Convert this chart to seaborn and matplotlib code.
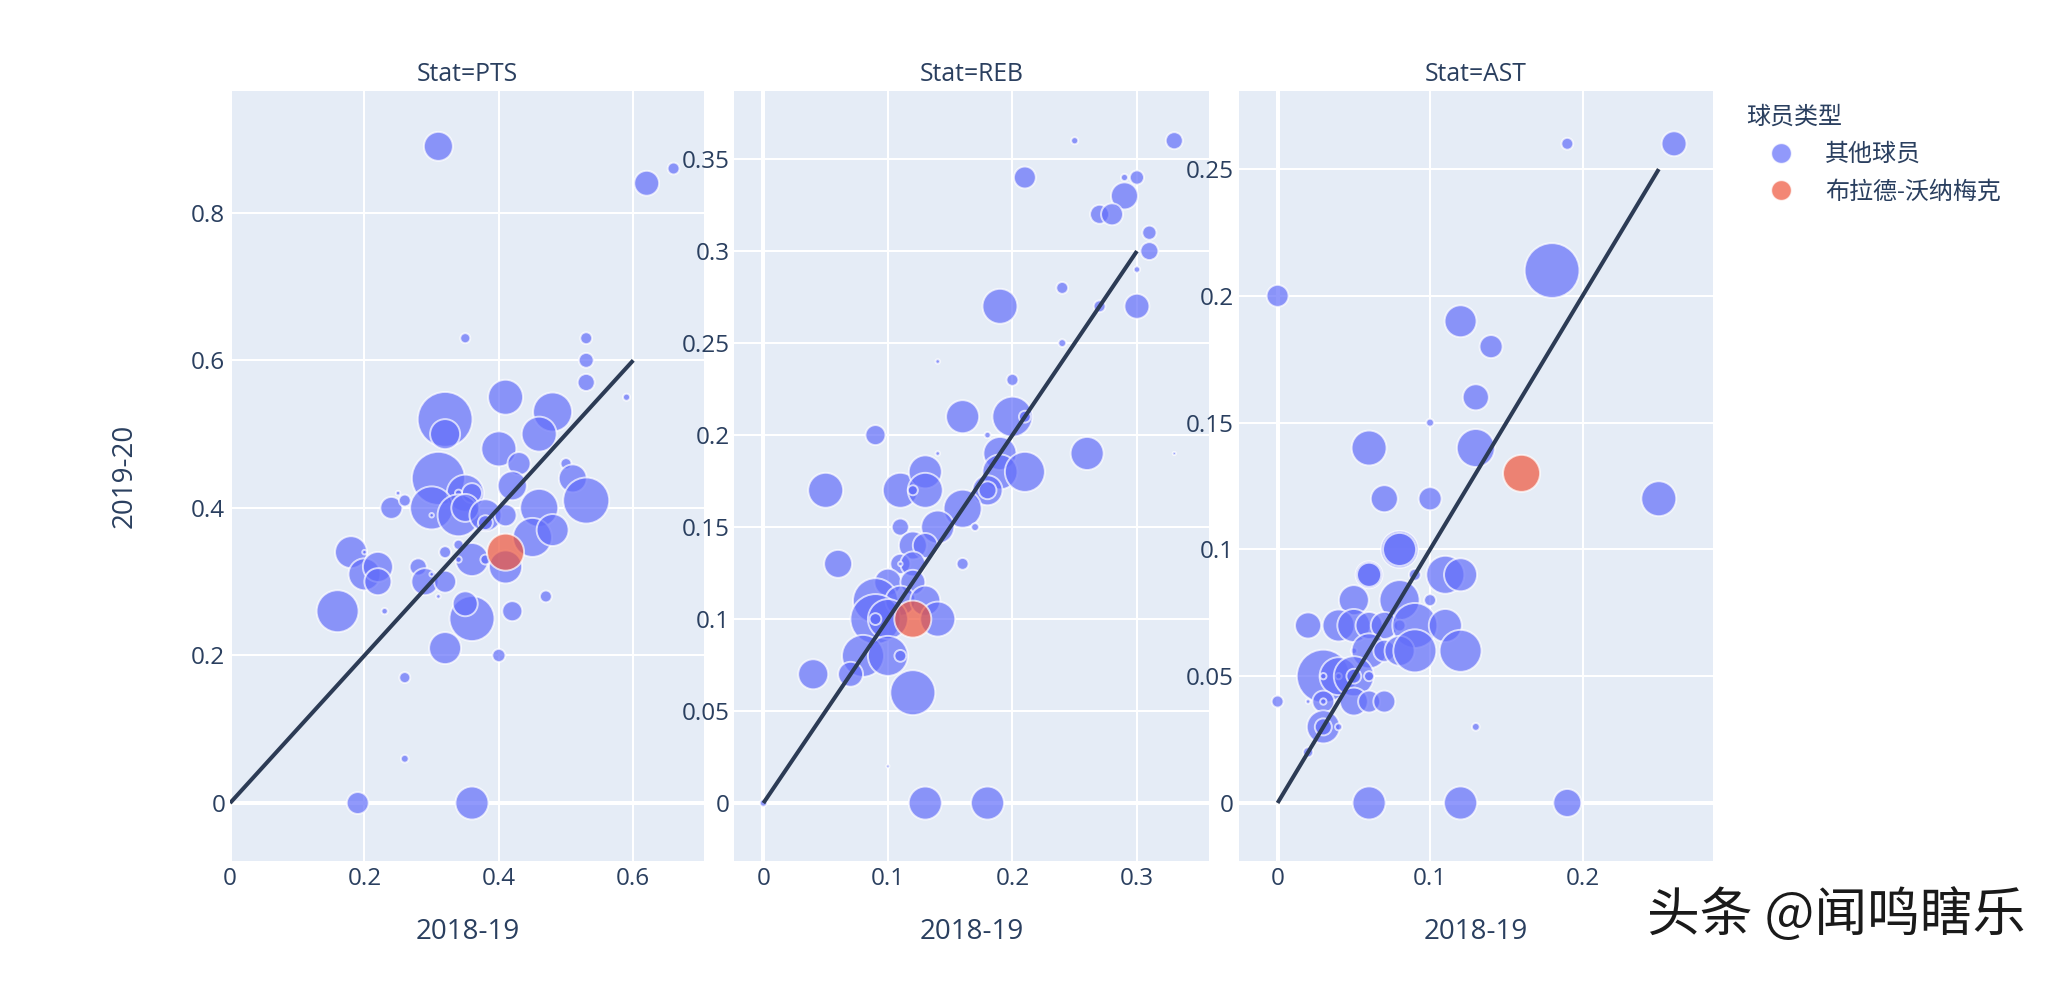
import matplotlib
matplotlib.use("Agg")
import matplotlib.pyplot as plt
import numpy as np
import pandas as pd
import seaborn as sns
from matplotlib.lines import Line2D
from matplotlib.ticker import FuncFormatter

# ---------------- data ----------------
stats = ["PTS", "REB", "AST"]
other_label = "其他球员"
focus_label = "布拉德-沃纳梅克"
legend_title = "球员类型"
x_title = "2018-19"
y_title = "2019-20"

# share of team stat per player, 2018-19 vs 2019-20; MIN drives bubble area
pts_prev = [0.31, 0.62, 0.66, 0.35, 0.53, 0.53, 0.53, 0.59, 0.32, 0.32,
            0.41, 0.48, 0.46, 0.40, 0.43, 0.50, 0.51, 0.53, 0.42, 0.31,
            0.35, 0.36, 0.34, 0.30, 0.34, 0.35, 0.38, 0.38, 0.41, 0.24,
            0.25, 0.26, 0.30, 0.46, 0.45, 0.48, 0.41, 0.36, 0.38, 0.32,
            0.34, 0.34, 0.18, 0.20, 0.20, 0.22, 0.22, 0.28, 0.29, 0.30,
            0.32, 0.31, 0.36, 0.35, 0.32, 0.40, 0.42, 0.47, 0.16, 0.23,
            0.26, 0.26, 0.19, 0.36]
pts_curr = [0.89, 0.84, 0.86, 0.63, 0.63, 0.60, 0.57, 0.55, 0.52, 0.50,
            0.55, 0.53, 0.50, 0.48, 0.46, 0.46, 0.44, 0.41, 0.43, 0.44,
            0.42, 0.42, 0.42, 0.40, 0.39, 0.40, 0.39, 0.38, 0.39, 0.40,
            0.42, 0.41, 0.39, 0.40, 0.36, 0.37, 0.32, 0.33, 0.33, 0.34,
            0.35, 0.33, 0.34, 0.34, 0.31, 0.32, 0.30, 0.32, 0.30, 0.31,
            0.30, 0.28, 0.25, 0.27, 0.21, 0.20, 0.26, 0.28, 0.26, 0.26,
            0.17, 0.06, 0.00, 0.00]
pts_min = [8.4, 6.2, 1.4, 1.0, 1.4, 2.2, 2.9, 0.5, 30.2, 9.0,
           12.2, 15.2, 12.2, 12.2, 5.3, 1.2, 7.8, 21.2, 8.4, 28.1,
           13.7, 4.0, 0.5, 18.5, 17.6, 7.8, 10.2, 2.2, 4.8, 4.8,
           0.2, 1.4, 0.2, 14.4, 15.2, 10.2, 10.9, 10.9, 1.0, 1.4,
           1.0, 0.4, 10.2, 0.2, 10.2, 9.0, 7.3, 2.9, 7.3, 0.2,
           4.8, 0.2, 20.2, 6.2, 10.2, 1.7, 4.0, 1.4, 17.6, 0.4,
           1.2, 0.6, 4.8, 10.9]

reb_prev = [0.25, 0.33, 0.21, 0.29, 0.30, 0.29, 0.27, 0.28, 0.31, 0.31,
            0.30, 0.24, 0.27, 0.30, 0.19, 0.24, 0.14, 0.20, 0.16, 0.20,
            0.21, 0.18, 0.09, 0.14, 0.19, 0.26, 0.33, 0.19, 0.21, 0.18,
            0.18, 0.16, 0.14, 0.17, 0.16, 0.11, 0.13, 0.13, 0.12, 0.05,
            0.06, 0.11, 0.12, 0.13, 0.11, 0.12, 0.11, 0.10, 0.12, 0.09,
            0.11, 0.13, 0.09, 0.10, 0.09, 0.14, 0.08, 0.10, 0.11, 0.07,
            0.04, 0.12, 0.10, 0.00, 0.13, 0.18]
reb_curr = [0.36, 0.36, 0.34, 0.34, 0.34, 0.33, 0.32, 0.32, 0.31, 0.30,
            0.29, 0.28, 0.27, 0.27, 0.27, 0.25, 0.24, 0.23, 0.21, 0.21,
            0.21, 0.20, 0.20, 0.19, 0.19, 0.19, 0.19, 0.18, 0.18, 0.17,
            0.17, 0.16, 0.15, 0.15, 0.13, 0.17, 0.18, 0.17, 0.17, 0.17,
            0.13, 0.15, 0.14, 0.14, 0.13, 0.13, 0.13, 0.12, 0.12, 0.11,
            0.11, 0.11, 0.10, 0.10, 0.10, 0.10, 0.08, 0.08, 0.08, 0.07,
            0.07, 0.06, 0.02, 0.00, 0.00, 0.00]
reb_min = [0.5, 2.9, 4.8, 0.5, 2.0, 7.3, 3.6, 4.8, 2.0, 3.2,
           0.4, 1.4, 1.4, 6.2, 12.2, 0.6, 0.2, 1.4, 10.9, 16.0,
           1.4, 0.4, 4.0, 0.2, 10.9, 10.9, 0.1, 12.2, 16.0, 9.0,
           3.2, 14.4, 10.9, 0.6, 1.4, 12.2, 10.9, 12.2, 1.0, 12.2,
           7.8, 2.9, 7.8, 6.2, 4.0, 6.2, 0.2, 7.3, 6.2, 20.2,
           9.0, 9.0, 25.0, 16.0, 1.4, 12.2, 17.6, 16.0, 1.4, 6.2,
           9.0, 20.2, 0.1, 0.5, 10.9, 10.9]

ast_prev = [0.19, 0.26, 0.18, 0.00, 0.12, 0.14, 0.13, 0.10, 0.06, 0.13,
            0.07, 0.10, 0.25, 0.08, 0.08, 0.06, 0.06, 0.11, 0.12, 0.09,
            0.05, 0.08, 0.10, 0.02, 0.04, 0.05, 0.06, 0.07, 0.08, 0.09,
            0.11, 0.05, 0.06, 0.07, 0.08, 0.09, 0.12, 0.03, 0.04, 0.04,
            0.05, 0.05, 0.06, 0.03, 0.00, 0.02, 0.03, 0.03, 0.05, 0.06,
            0.07, 0.03, 0.03, 0.04, 0.13, 0.02, 0.06, 0.12, 0.19]
ast_curr = [0.26, 0.26, 0.21, 0.20, 0.19, 0.18, 0.16, 0.15, 0.14, 0.14,
            0.12, 0.12, 0.12, 0.10, 0.10, 0.09, 0.09, 0.09, 0.09, 0.09,
            0.08, 0.08, 0.08, 0.07, 0.07, 0.07, 0.07, 0.07, 0.07, 0.07,
            0.07, 0.06, 0.06, 0.06, 0.06, 0.06, 0.06, 0.05, 0.05, 0.05,
            0.05, 0.05, 0.05, 0.05, 0.04, 0.04, 0.04, 0.04, 0.04, 0.04,
            0.04, 0.03, 0.03, 0.03, 0.03, 0.02, 0.00, 0.00, 0.00]
ast_min = [1.4, 6.2, 30.2, 4.8, 10.2, 5.3, 6.8, 0.6, 12.2, 14.4,
           7.3, 5.3, 12.2, 13.7, 10.9, 7.3, 5.8, 14.4, 10.9, 1.4,
           9.0, 16.0, 1.4, 6.8, 10.2, 10.9, 7.3, 7.3, 1.4, 20.2,
           10.9, 0.4, 12.2, 4.8, 9.0, 18.5, 17.6, 28.1, 14.4, 0.4,
           16.0, 2.2, 1.0, 0.4, 1.4, 0.2, 4.8, 0.4, 7.8, 4.8,
           4.8, 10.9, 2.9, 0.5, 0.6, 1.0, 10.9, 10.9, 7.8]

# Brad Wanamaker (PTS, REB, AST)
bw_prev = [0.41, 0.12, 0.16]
bw_curr = [0.34, 0.10, 0.13]
bw_min = [13.7, 13.7, 13.7]

# y = x reference line end per stat
diag_max = [0.6, 0.3, 0.25]

x_ticks = [[0, 0.2, 0.4, 0.6], [0, 0.1, 0.2, 0.3], [0, 0.1, 0.2]]
y_ticks = [[0, 0.2, 0.4, 0.6, 0.8],
           [0, 0.05, 0.1, 0.15, 0.2, 0.25, 0.3, 0.35],
           [0, 0.05, 0.1, 0.15, 0.2, 0.25]]
x_lims = [(0.0, 0.706), (-0.0233, 0.3577), (-0.0255, 0.2856)]
y_lims = [(-0.0786, 0.965), (-0.0315, 0.387), (-0.0229, 0.2808)]

# ---------------- style ----------------
sns.set_theme(style="darkgrid", rc={
    "axes.facecolor": "#E5ECF6",
    "grid.color": "white",
    "figure.facecolor": "white",
})
plt.rcParams["font.family"] = ["Open Sans", "Noto Sans CJK SC", "DejaVu Sans"]

TXT = "#2a3f5f"
palette = {other_label: "#636efa", focus_label: "#ef553b"}
VMAX = 30.0

prev_sets = [pts_prev, reb_prev, ast_prev]
curr_sets = [pts_curr, reb_curr, ast_curr]
min_sets = [pts_min, reb_min, ast_min]

fig, axes = plt.subplots(1, 3, figsize=(20.58, 9.82), dpi=100)
fig.subplots_adjust(left=0.1118, right=0.8324, bottom=0.1232, top=0.9073, wspace=0.0631)

fmt = FuncFormatter(lambda v, p: f"{v:g}")

for k, ax in enumerate(axes):
    df = pd.DataFrame({x_title: prev_sets[k], y_title: curr_sets[k],
                       "MIN": min_sets[k], legend_title: other_label})
    red = pd.DataFrame({x_title: [bw_prev[k]], y_title: [bw_curr[k]],
                        "MIN": [bw_min[k]], legend_title: [focus_label]})
    df = pd.concat([df, red], ignore_index=True)

    ax.set_facecolor("#E5ECF6")
    ax.set_axisbelow(True)
    ax.grid(True, color="white", lw=1.45)
    ax.axhline(0, color="white", lw=2.9, zorder=0.8)
    ax.axvline(0, color="white", lw=2.9, zorder=0.8)

    sns.scatterplot(data=df, x=x_title, y=y_title, hue=legend_title,
                    palette=palette, size="MIN", sizes=(0, 51.84 * VMAX),
                    size_norm=(0, VMAX), alpha=0.7, edgecolor="white",
                    linewidth=1.4, legend=False, ax=ax, zorder=2)

    ax.plot([0, diag_max[k]], [0, diag_max[k]], color="#2c3b55", lw=2.9,
            solid_capstyle="butt", zorder=3)

    ax.set_xlim(*x_lims[k])
    ax.set_ylim(*y_lims[k])
    ax.set_xticks(x_ticks[k])
    ax.set_yticks(y_ticks[k])
    ax.xaxis.set_major_formatter(fmt)
    ax.yaxis.set_major_formatter(fmt)
    ax.tick_params(length=0, labelsize=17.5, colors=TXT)
    ax.tick_params(axis="y", pad=3.5)
    ax.tick_params(axis="x", pad=4)
    for s in ax.spines.values():
        s.set_visible(False)

    ax.set_title(f"Stat={stats[k]}", fontsize=17.8, color=TXT, pad=7)
    ax.set_xlabel(x_title, fontsize=20, color=TXT)
    ax.xaxis.label.set_va("center")
    ax.xaxis.set_label_coords(0.5, -0.0922)
    if k == 0:
        ax.set_ylabel(y_title, fontsize=20, color=TXT)
        ax.yaxis.label.set_va("center")
        ax.yaxis.set_label_coords(-0.2225, 0.5)
    else:
        ax.set_ylabel("")

handles = [Line2D([], [], marker="o", ls="", markersize=14.4,
                  markerfacecolor=palette[lab], markeredgecolor="white",
                  alpha=0.7) for lab in [other_label, focus_label]]
leg = fig.legend(handles, [other_label, focus_label], title=legend_title,
                 loc="upper left", bbox_to_anchor=(1746 / 2058, 1 - 106 / 982),
                 frameon=False, fontsize=17.3, title_fontsize=17.3,
                 handlelength=2.9, handletextpad=0.4, labelspacing=0.55,
                 borderpad=0, borderaxespad=0, alignment="left",
                 labelcolor=TXT)
leg.get_title().set_color(TXT)

fig.text(1647 / 2058, 1 - 915 / 982, "头条 @闻鸣瞎乐", ha="left", va="center",
         fontsize=38, color="#1a1a1a", family=["Noto Sans CJK SC"])

fig.savefig("out.png", dpi=100)
